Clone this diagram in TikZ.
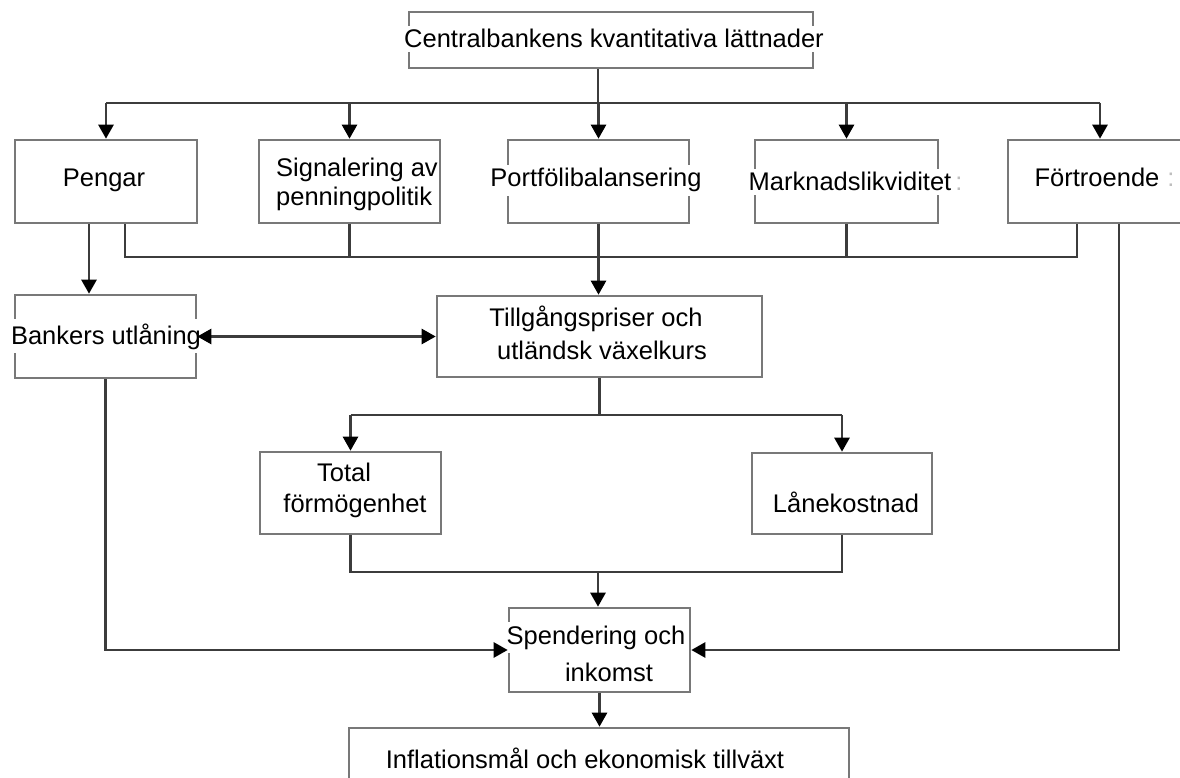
\documentclass[tikz,border=0pt]{standalone}
\usepackage{fontspec}
\setmainfont{Liberation Sans}
\usetikzlibrary{arrows.meta}
\definecolor{boxc}{RGB}{120,120,120}
\definecolor{linec}{RGB}{60,60,60}
\definecolor{faint}{RGB}{190,190,190}
\begin{document}
\begin{tikzpicture}[x=1pt,y=-1pt,
  box/.style={draw=boxc,line width=2.6pt,inner sep=0pt,rectangle},
  lbl/.style={font=\fontsize{25.5}{30}\selectfont,fill=white,inner xsep=1pt,inner ysep=4pt,anchor=base},
  conn/.style={draw=linec,line width=2.6pt},
  arr/.style={-{Triangle[length=14pt,width=15pt,color=black]}},
  arrtwo/.style={{Triangle[length=14pt,width=15pt,color=black]}-{Triangle[length=14pt,width=15pt,color=black]}}
]
\useasboundingbox (0,0) rectangle (1180,778);
\fill[white] (0,0) rectangle (1180,778);
\clip (0,0) rectangle (1180,778);

% boxes
\node[box,minimum width=404pt,minimum height=56pt] (top) at (611,40) {};
\node[box,minimum width=182pt,minimum height=83pt] (pen) at (106,181.5) {};
\node[box,minimum width=181pt,minimum height=83pt] (sig) at (349.5,181.5) {};
\node[box,minimum width=181pt,minimum height=83pt] (por) at (598.5,181.5) {};
\node[box,minimum width=183pt,minimum height=83pt] (mark) at (846.5,181.5) {};
\node[box,minimum width=184pt,minimum height=83pt] (foer) at (1100,181.5) {};
\node[box,minimum width=181pt,minimum height=83pt] (bank) at (105.5,336.5) {};
\node[box,minimum width=325pt,minimum height=81pt] (till) at (599.5,336.5) {};
\node[box,minimum width=181pt,minimum height=82pt] (tot) at (350.5,493) {};
\node[box,minimum width=180pt,minimum height=81pt] (lane) at (842,493.5) {};
\node[box,minimum width=181pt,minimum height=84pt] (spend) at (599.5,650) {};
\node[box,minimum width=500pt,minimum height=82pt] (infl) at (599,769) {};

% texts
\node[lbl] (topT) at (614,48) {Centralbankens kvantitativa lättnader};
\node[lbl] (penT) at (104,187) {Pengar};
\node[lbl,anchor=base west] (sigA) at (275,177) {Signalering av};
\node[lbl,anchor=base west] (sigB) at (275,206) {penningpolitik};
\node[lbl] (porT) at (596,187) {Portfölibalansering};
\node[lbl] (markT) at (850,191) {Marknadslikviditet};
\node[lbl,text=faint,fill=none] (markC) at (959,191) {:};
\node[lbl] (foerT) at (1097,186) {Förtroende};
\node[lbl,text=faint,fill=none] (foerC) at (1171,186) {:};
\node[lbl] (bankT) at (106,344) {Bankers utlåning};
\node[lbl] (tillA) at (596,326) {Tillgångspriser och};
\node[lbl] (tillB) at (602,359) {utländsk växelkurs};
\node[lbl] (totA) at (344,481) {Total};
\node[lbl] (totB) at (355,512) {förmögenhet};
\node[lbl] (laneT) at (846,512) {Lånekostnad};
\node[lbl] (spendA) at (596,644) {Spendering och};
\node[lbl] (spendB) at (609,681) {inkomst};
\node[lbl] (inflT) at (585,768) {Inflationsmål och ekonomisk tillväxt};

% junction coordinates
\coordinate (busT) at (598,103);
\coordinate (busB) at (598,257);
\coordinate (busM) at (598,415);
\coordinate (busL) at (598,572);
\coordinate (xPa) at (89,0);
\coordinate (xPb) at (125,0);
\coordinate (xFa) at (1077,0);
\coordinate (xFb) at (1119,0);

% top distribution
\draw[conn] (top.south -| busT) -- (busT);
\draw[conn] (pen.north |- busT) -- (foer.north |- busT);
\foreach \n in {pen,sig,por,mark,foer}
  \draw[conn,arr] (\n.north |- busT) -- (\n.north);

% lower collection bus
\draw[conn] (pen.south -| xPb) -- (xPb |- busB) -- (xFa |- busB) -- (foer.south -| xFa);
\draw[conn] (sig.south) -- (sig.south |- busB);
\draw[conn] (mark.south) -- (mark.south |- busB);
\draw[conn,arr] (por.south) -- (por.south |- till.north);

% Pengar to Bankers
\draw[conn,arr] (pen.south -| xPa) -- (bank.north -| xPa);

% Bankers <-> Tillgangspriser
\draw[conn,arrtwo] (bank.east) -- (till.west);

% Tillgangspriser split
\draw[conn] (till.south) -- (till.south |- busM);
\draw[conn] (tot.north |- busM) -- (lane.north |- busM);
\draw[conn,arr] (tot.north |- busM) -- (tot.north);
\draw[conn,arr] (lane.north |- busM) -- (lane.north);

% merge to Spendering
\draw[conn] (tot.south) -- (tot.south |- busL) -- (lane.south |- busL) -- (lane.south);
\draw[conn,arr] (busL) -- (spend.north -| busL);

% side inputs
\draw[conn,arr] (bank.south) |- (spend.west);
\draw[conn,arr] (foer.south -| xFb) |- (spend.east);

% to Inflation
\draw[conn,arr] (spend.south) -- (spend.south |- infl.north);
\end{tikzpicture}
\end{document}
